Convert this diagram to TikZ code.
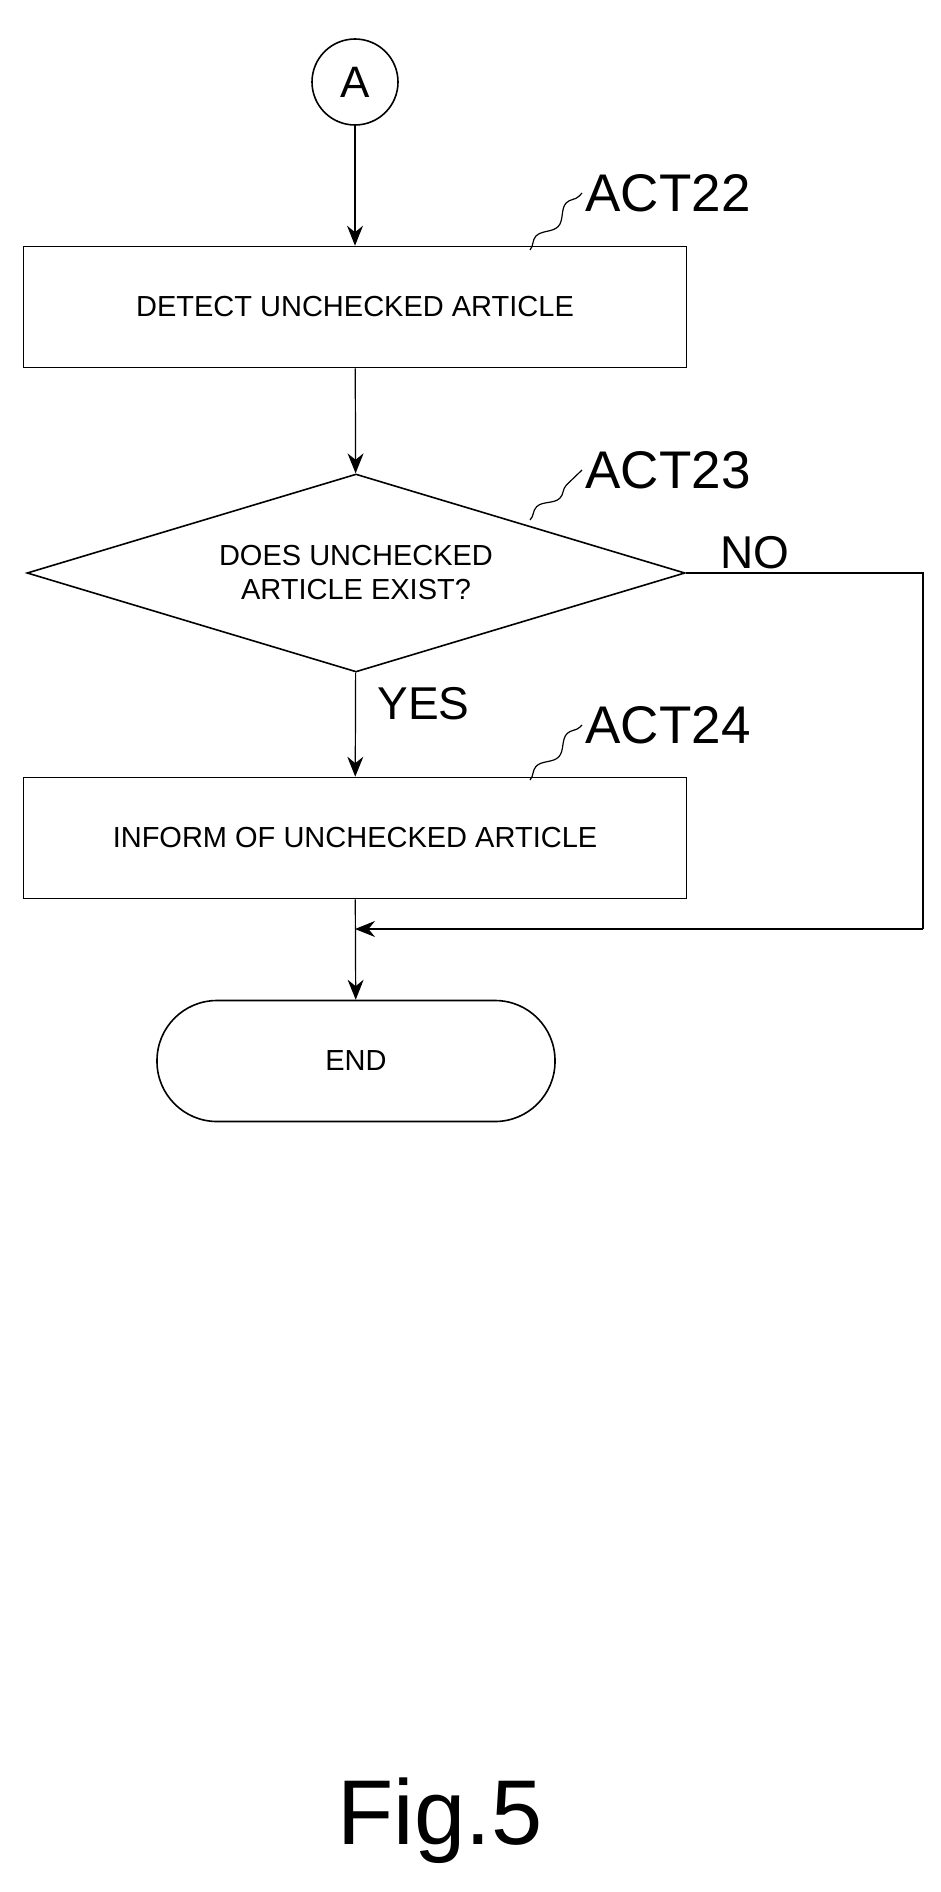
\documentclass[tikz,border=0pt]{standalone}
\usepackage{fontspec}
\setmainfont{Liberation Sans}
\usetikzlibrary{positioning,shapes.geometric,arrows.meta,decorations.pathmorphing}
\begin{document}
\begin{tikzpicture}[x=1pt,y=-1pt,
  box/.style={draw, line width=1.6pt, minimum width=663pt, minimum height=121pt, font=\fontsize{29}{34}\selectfont},
  flow/.style={line width=1.2pt, -{Stealth[length=20pt,width=16pt]}},
  lead/.style={line width=1.2pt, decorate, decoration={snake, amplitude=5pt, segment length=45pt}},
  tag/.style={font=\fontsize{53}{53}\selectfont, anchor=west}]
\useasboundingbox (0,0) rectangle (941,1892);
% nodes
\node[circle, draw, line width=1.6pt, minimum size=86pt, font=\fontsize{44}{44}\selectfont] (a) at (355,82) {A};
\node[box] (act22) at (355,307) {DETECT UNCHECKED ARTICLE};
\node[diamond, draw, line width=1.6pt, aspect=3.33, minimum width=658pt, minimum height=198pt, inner sep=0pt, align=center, font=\fontsize{29}{34}\selectfont] (act23) at (356,573) {DOES UNCHECKED\\ARTICLE EXIST?};
\node[box] (act24) at (355,838) {INFORM OF UNCHECKED ARTICLE};
\node[draw, rounded corners=60pt, line width=1.6pt, minimum width=398pt, minimum height=121pt, font=\fontsize{29}{34}\selectfont] (end) at (356,1061) {END};
\coordinate (merge) at (355,929);
\coordinate (corner) at (923,573);
\coordinate (back) at (923,929);
% step labels
\node[tag] (t22) at (582,193) {ACT22};
\node[tag] (t23) at (582,470) {ACT23};
\node[tag] (t24) at (582,725) {ACT24};
\draw[lead] (530,250) -- (t22.west);
\draw[lead] (530,520) -- (t23.west);
\draw[lead] (530,780) -- (t24.west);
% connectors
\draw[flow] (a) -- (act22);
\draw[flow] (act22) -- (act23);
\draw[flow] (act23) -- node[font=\fontsize{46}{46}\selectfont, anchor=west, pos=0.3, xshift=18pt] {YES} (act24);
\draw[line width=1.2pt] (act23.east) -- node[font=\fontsize{46}{46}\selectfont, above, xshift=10pt, pos=0.25] {NO} (corner) -- (back);
\draw[flow] (back) -- (merge);
\draw[flow] (act24) -- (end);
\node[font=\fontsize{92}{92}\selectfont] (fig) at (440,1821) {Fig.5};
\end{tikzpicture}
\end{document}
